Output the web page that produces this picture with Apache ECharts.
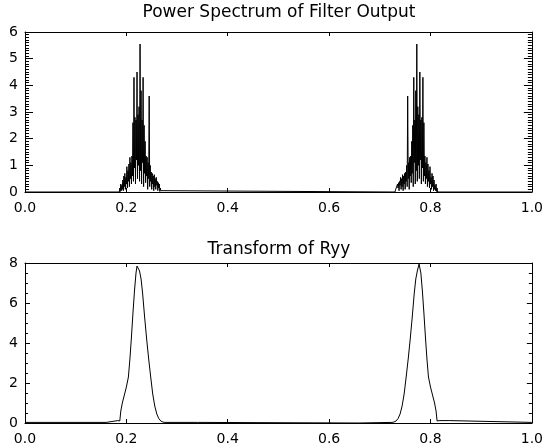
<!DOCTYPE html>
<html>
<head>
<meta charset="utf-8">
<script src="https://cdn.jsdelivr.net/npm/echarts@6/dist/echarts.min.js"></script>
<style>
    html, body { margin: 0; padding: 0; background: #fff; }
    #chart { width: 546px; height: 446px; }
</style>
</head>
<body>
<div id="chart"></div>
<script>
// Power spectrum: two narrow bands, sampled every 0.001 in frequency
var specStep = 0.001;
var peak1Start = 0.186;
var peak1Power = [0, 0.15, 0.02, 0.3, 0.05, 0.25, 0.1, 0.45, 0.05, 0.6,
    0.2, 0.7, 0.1, 0.55, 0.3, 0.95, 0.15, 0.8, 0.4, 1.05,
    0.2, 1.3, 0.5, 1.1, 0.3, 1.35, 0.6, 2.6, 0.4, 4.3,
    0.9, 2.8, 0.3, 2.7, 1.2, 4.5, 0.5, 2.9, 1.0, 3.2,
    0.4, 5.55, 0.8, 3.8, 0.3, 2.7, 1.1, 4.3, 0.2, 2.5,
    0.7, 1.9, 0.35, 1.35, 0.6, 1.3, 0.1, 1.1, 0.5, 3.6,
    0.2, 1.0, 0.4, 0.75, 0.1, 0.7, 0.3, 0.6, 0.05, 0.65,
    0.2, 0.5, 0.1, 0.55, 0.25, 0.4, 0.05, 0.35, 0.15, 0.3,
    0.02, 0.15, 0.05, 0.08, 0];
var peak2Start = 0.730;
var peak2Power = [0, 0.08, 0.05, 0.15, 0.02, 0.3, 0.15, 0.35, 0.05, 0.4,
    0.25, 0.55, 0.1, 0.5, 0.2, 0.65, 0.05, 0.6, 0.3, 0.7,
    0.1, 0.75, 0.4, 1.0, 0.2, 3.6, 0.5, 1.1, 0.1, 1.3,
    0.6, 1.35, 0.35, 1.9, 0.7, 2.5, 0.2, 4.3, 1.1, 2.7,
    0.3, 3.8, 0.8, 5.55, 0.4, 3.2, 1.0, 2.9, 0.5, 4.5,
    1.2, 2.7, 0.3, 2.8, 0.9, 4.3, 0.4, 2.6, 0.6, 1.35,
    0.3, 1.1, 0.5, 1.3, 0.2, 1.05, 0.4, 0.8, 0.15, 0.95,
    0.3, 0.55, 0.1, 0.7, 0.2, 0.6, 0.05, 0.45, 0.1, 0.25,
    0.05, 0.3, 0.02, 0.15, 0];

// Transform of Ryy: smooth curve
var ryyFreq = [0, 0.160, 0.162, 0.183, 0.185, 0.187, 0.189, 0.192, 0.196, 0.200,
    0.204, 0.207, 0.210, 0.213, 0.216, 0.219, 0.221, 0.2225, 0.224, 0.226,
    0.229, 0.232, 0.236, 0.240, 0.244, 0.248, 0.252, 0.256, 0.260, 0.264,
    0.268, 0.272, 0.276, 0.340, 0.342,
    0.658, 0.660, 0.724, 0.728, 0.732, 0.736, 0.740, 0.744, 0.748, 0.752,
    0.756, 0.760, 0.764, 0.768, 0.771, 0.774, 0.776, 0.7775, 0.779, 0.781,
    0.784, 0.787, 0.790, 0.793, 0.796, 0.800, 0.804, 0.808, 0.811, 0.813,
    0.815, 0.817, 0.838, 0.840, 1.0];
var ryyPower = [0.03, 0.03, 0.12, 0.12, 0.03, 0.1, 0.6, 1.0, 1.4, 1.8,
    2.3, 3.2, 4.3, 5.5, 6.6, 7.5, 7.85, 7.95, 7.8, 7.6,
    7.2, 6.5, 5.3, 4.2, 3.2, 2.3, 1.45, 0.85, 0.45, 0.22,
    0.1, 0.05, 0.03, 0.03, 0,
    0, 0.03, 0.03, 0.05, 0.1, 0.22, 0.45, 0.85, 1.45, 2.3,
    3.2, 4.2, 5.3, 6.5, 7.2, 7.6, 7.8, 7.95, 7.85, 7.5,
    6.6, 5.5, 4.3, 3.2, 2.3, 1.8, 1.4, 1.0, 0.6, 0.1,
    0.03, 0.12, 0.12, 0.03, 0.03];

var titles = ['Power Spectrum of Filter Output', 'Transform of Ryy'];

// Build [freq, power] pairs for the spectrum
function bandPoints(start, values) {
    var pts = [];
    for (var i = 0; i < values.length; i++) {
        pts.push([+(start + i * specStep).toFixed(4), values[i]]);
    }
    return pts;
}
var specData = [[0, 0]]
    .concat(bandPoints(peak1Start, peak1Power))
    .concat(bandPoints(peak2Start, peak2Power))
    .concat([[1, 0]]);
var ryyData = ryyFreq.map(function(f, i) { return [f, ryyPower[i]]; });

var font = 'DejaVu Sans';
var ink = '#000';

function xAxes(gridIndex, top) {
    return {
        gridIndex: gridIndex,
        type: 'value',
        position: top ? 'top' : 'bottom',
        min: 0, max: 1, interval: 0.2,
        axisLine: { show: true, onZero: false, lineStyle: { color: ink, width: 1 } },
        axisTick: { show: true, inside: true, length: 4, lineStyle: { color: ink } },
        axisLabel: {
            show: !top, margin: 9, color: ink, fontFamily: font, fontSize: 14,
            showMinLabel: true, showMaxLabel: true,
            formatter: function(v) { return v.toFixed(1); }
        },
        splitLine: { show: false }
    };
}

function yAxes(gridIndex, right, max, interval, tickLen, minorSplit, minorLen) {
    return {
        gridIndex: gridIndex,
        type: 'value',
        position: right ? 'right' : 'left',
        min: 0, max: max, interval: interval,
        axisLine: { show: true, onZero: false, lineStyle: { color: ink, width: 1 } },
        axisTick: { show: true, inside: true, length: tickLen, lineStyle: { color: ink } },
        minorTick: { show: true, splitNumber: minorSplit, length: minorLen, lineStyle: { color: ink } },
        axisLabel: {
            show: !right, margin: 7, color: ink, fontFamily: font, fontSize: 14,
            showMinLabel: true, showMaxLabel: true
        },
        splitLine: { show: false },
        minorSplitLine: { show: false }
    };
}

var chart = echarts.init(document.getElementById('chart'), null, { renderer: 'canvas' });
chart.setOption({
    animation: false,
    backgroundColor: '#fff',
    title: [
        { text: titles[0], left: 279, top: 4, textAlign: 'center', padding: 0,
          textStyle: { color: ink, fontFamily: font, fontSize: 17, fontWeight: 'normal' } },
        { text: titles[1], left: 279, top: 241, textAlign: 'center', padding: 0,
          textStyle: { color: ink, fontFamily: font, fontSize: 17, fontWeight: 'normal' } }
    ],
    grid: [
        { left: 25, top: 32, width: 508, height: 160 },
        { left: 25, top: 263, width: 508, height: 160 }
    ],
    xAxis: [xAxes(0, false), xAxes(0, true), xAxes(1, false), xAxes(1, true)],
    yAxis: [
        yAxes(0, false, 6, 1, 8, 10, 4),
        yAxes(0, true, 6, 1, 8, 10, 4),
        yAxes(1, false, 8, 2, 5, 4, 3),
        yAxes(1, true, 8, 2, 5, 4, 3)
    ],
    series: [
        {
            type: 'line', xAxisIndex: 0, yAxisIndex: 0, data: specData,
            showSymbol: false, sampling: null,
            lineStyle: { color: ink, width: 1 }
        },
        {
            type: 'line', xAxisIndex: 2, yAxisIndex: 2, data: ryyData,
            showSymbol: false,
            lineStyle: { color: ink, width: 1 }
        }
    ]
});
</script>
</body>
</html>
